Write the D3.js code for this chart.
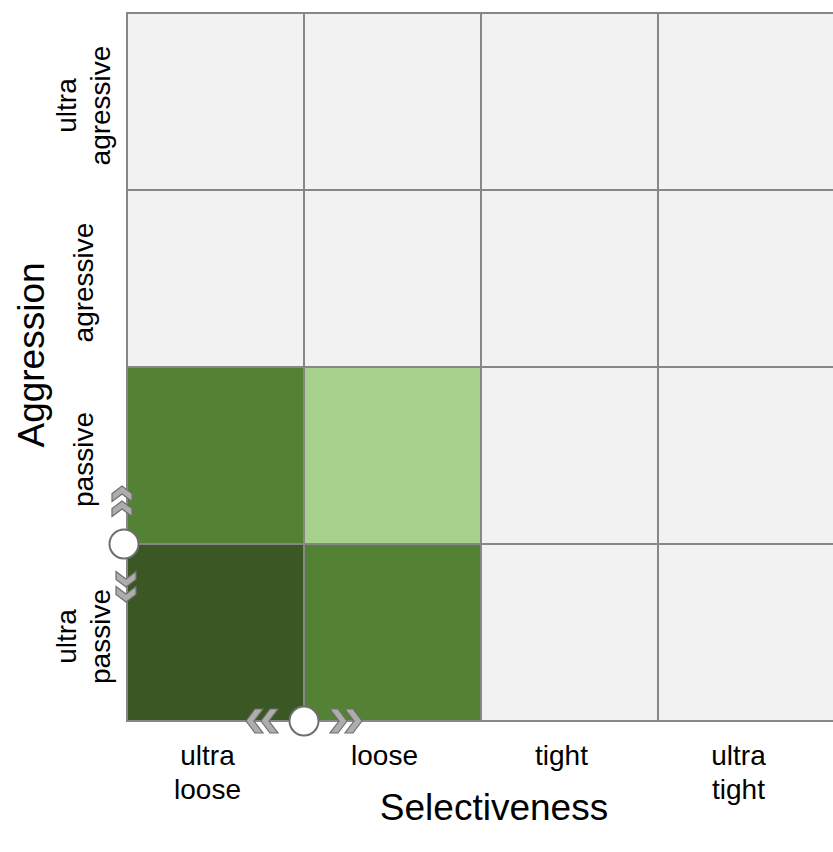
<!DOCTYPE html>
<html>
<head>
<meta charset="utf-8">
<script src="https://cdn.jsdelivr.net/npm/d3@7"></script>
<style>
  body { margin: 0; background: #fff; }
  svg { display: block; font-family: "Liberation Sans", Arial, sans-serif; }
</style>
</head>
<body>
<div id="chart"></div>
<script>
// categories, left to right and top to bottom
const selectiveness = ['ultra loose', 'loose', 'tight', 'ultra tight'];
const aggression = ['ultra agressive', 'agressive', 'passive', 'ultra passive'];

// shade level per cell, rows follow `aggression`, columns follow `selectiveness`
const levels = [
  [0, 0, 0, 0],
  [0, 0, 0, 0],
  [2, 1, 0, 0],
  [3, 2, 0, 0]
];

// slider handles sit on the band boundary with this index
const sliderX = 1;
const sliderY = 3;

const width = 833,
  height = 852;

const x = d3.scaleBand().domain(selectiveness).range([127, 835]);
const y = d3.scaleBand().domain(aggression).range([13, 721]);
const color = d3.scaleOrdinal()
  .domain([0, 1, 2, 3])
  .range(['#f2f2f2', '#a9d18e', '#548235', '#3a5724']);

const svg = d3.select('#chart').append('svg')
  .attr('width', width)
  .attr('height', height)
  .attr('viewBox', [0, 0, width, height]);

const cells = levels.flatMap((row, i) => row.map((v, j) => ({
  col: selectiveness[j],
  row: aggression[i],
  v
})));

svg.append('g')
  .selectAll('rect')
  .data(cells)
  .join('rect')
  .attr('x', d => x(d.col))
  .attr('y', d => y(d.row))
  .attr('width', x.bandwidth())
  .attr('height', y.bandwidth())
  .attr('fill', d => color(d.v))
  .attr('stroke', '#878787')
  .attr('stroke-width', 2);

// tick labels
const lines = s => s.split(' ');

svg.append('g')
  .selectAll('text')
  .data(selectiveness)
  .join('text')
  .attr('text-anchor', 'middle')
  .attr('font-size', 28)
  .attr('fill', '#000')
  .each(function(d) {
    d3.select(this).selectAll('tspan')
      .data(lines(d))
      .join('tspan')
      .attr('x', x(d) + x.bandwidth() / 2 - 8)
      .attr('y', (t, i) => 765 + i * 34)
      .text(t => t);
  });

svg.append('g')
  .selectAll('text')
  .data(aggression)
  .join('text')
  .attr('text-anchor', 'middle')
  .attr('font-size', 28)
  .attr('fill', '#000')
  .attr('transform', d => `translate(93,${y(d) + y.bandwidth() / 2 + 4}) rotate(-90)`)
  .each(function(d) {
    const ls = lines(d);
    d3.select(this).selectAll('tspan')
      .data(ls)
      .join('tspan')
      .attr('x', 0)
      .attr('y', (t, i) => (i - (ls.length - 1) / 2) * 34)
      .text(t => t);
  });

// axis titles
svg.append('text')
  .attr('x', 494)
  .attr('y', 820)
  .attr('text-anchor', 'middle')
  .attr('font-size', 37)
  .text('Selectiveness');

svg.append('text')
  .attr('transform', 'translate(44,355) rotate(-90)')
  .attr('text-anchor', 'middle')
  .attr('font-size', 37)
  .text('Aggression');

// chevron pointing left with its tip at 0,0; s is its span across
const chevron = (s, t) => {
  const h = s / 2,
    d = h * 0.75;
  return `M0,0L${d},${-h}L${d + t},${-h}L${t},0L${d + t},${h}L${d},${h}Z`;
};

const slider = (cx, cy, angle, s, t, xoff) => {
  const g = svg.append('g').attr('transform', `translate(${cx},${cy})`);
  [0, 180].forEach(a => {
    const side = g.append('g').attr('transform', `rotate(${angle + a})`);
    [-58, -43].forEach(o => {
      side.append('path')
        .attr('d', chevron(s, t))
        .attr('transform', `translate(${o},${xoff})`)
        .attr('fill', '#adadad')
        .attr('stroke', '#6e6e6e')
        .attr('stroke-width', 1.2);
    });
  });
  g.append('circle')
    .attr('r', 14.5)
    .attr('fill', '#fff')
    .attr('stroke', '#6e6e6e')
    .attr('stroke-width', 2);
};

const bx = x.range()[0] + sliderX * x.step();
const by = y.range()[0] + sliderY * y.step();
slider(bx, y.range()[1], 0, 24, 8, 0);
slider(x.range()[0] - 3, by, 90, 20, 8, 2);
</script>
</body>
</html>
